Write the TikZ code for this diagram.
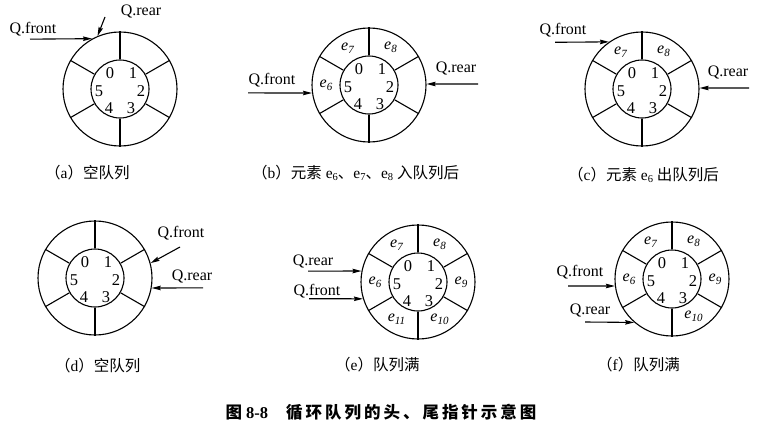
\documentclass[tikz,border=0pt]{standalone}
\usepackage{fontspec}
\setmainfont{Liberation Serif}
\newfontfamily\cjk{Noto Sans CJK SC}
\newfontfamily\cjkcap[LetterSpace=18]{Noto Sans CJK SC}
\usetikzlibrary{arrows.meta}

\tikzset{
 ring/.style={circle, draw, inner sep=0pt, line width=1.1pt},
 spoke/.style={line width=1.1pt},
 dig/.style={inner sep=0pt, font=\fontsize{16.5}{16.5}\selectfont},
 elem/.style={inner sep=0pt, font=\fontsize{16}{16}\selectfont\itshape},
 qlab/.style={inner sep=0pt, font=\fontsize{16}{16}\selectfont},
 ptr/.style={line width=1.1pt, -{Stealth[length=9pt,width=4.5pt,inset=1pt]}},
 subcap/.style={inner sep=0pt, anchor=west, font=\fontsize{15.5}{15.5}\selectfont},
}
\newcommand{\qring}[3]{%
 \node[ring, minimum size=114pt] (#1O) at (#2,#3) {};
 \node[ring, minimum size=58pt] (#1I) at (#2,#3) {};
 \foreach \ang in {30,90,150,210,270,330} \draw[spoke] (#1I.\ang) -- (#1O.\ang);
 \node[dig] (#1n0) at ([shift={(-10,-16)}]#1O) {0};
 \node[dig] (#1n1) at ([shift={(13,-16)}]#1O) {1};
 \node[dig] (#1n2) at ([shift={(21,2)}]#1O) {2};
 \node[dig] (#1n3) at ([shift={(11,19)}]#1O) {3};
 \node[dig] (#1n4) at ([shift={(-11,19)}]#1O) {4};
 \node[dig] (#1n5) at ([shift={(-21,2.5)}]#1O) {5};
}
\newcommand{\elm}[1]{e\raisebox{-3pt}{\fontsize{11}{11}\selectfont #1}}
\newcommand{\sube}[1]{e\raisebox{-2.5pt}{\fontsize{10.5}{10.5}\selectfont #1}}

\begin{document}
\begin{tikzpicture}[x=1pt,y=-1pt]
\useasboundingbox (0,0) rectangle (758,436);

% (a)
\qring{a}{120}{89}
\node[qlab] (afl) at (33,29) {Q.front};
\node[qlab] (arl) at (141,12) {Q.rear};
\coordinate (aft) at (30,39.15);
\coordinate (art) at (105,17);
\draw[ptr] (aft) -- (aO.119);
\draw[ptr] (art) -- (aO.113);
\node[subcap] (acap) at (45,173) {{\cjk （}a{\cjk ）空队列}};

% (b)
\qring{b}{369}{85}
\node[elem] (be6) at ([shift={(-120:43)}]bO) {\elm{7}};
\node[elem] (be7) at ([shift={(-60:43)}]bO) {\elm{8}};
\node[elem] (be5) at ([shift={(-180:43)}]bO) {\elm{6}};
\node[qlab] (bfl) at (272,80) {Q.front};
\node[qlab] (brl) at (456,69) {Q.rear};
\coordinate (bft) at (248,92.93);
\coordinate (brt) at (478,84);
\draw[ptr] (bft) -- (bO.188);
\draw[ptr] (brt) -- (bO.1);
\node[subcap] (bcap) at (252,173) {{\cjk （}b{\cjk ）元素} \sube{6}{\cjk 、}\sube{7}{\cjk 、}\sube{8} {\cjk 入队列后}};

% (c)
\qring{c}{642}{89}
\node[elem] (ce7) at ([shift={(-120:43)}]cO) {\elm{7}};
\node[elem] (ce8) at ([shift={(-60:43)}]cO) {\elm{8}};
\node[qlab] (cfl) at (563,30) {Q.front};
\node[qlab] (crl) at (728,73) {Q.rear};
\coordinate (cft) at (555,42.3);
\coordinate (crt) at (749,88);
\draw[ptr] (cft) -- (cO.125);
\draw[ptr] (crt) -- (cO.1);
\node[subcap] (ccap) at (568,175) {{\cjk （}c{\cjk ）元素} \sube{6} {\cjk 出队列后}};

% (d)
\qring{d}{95}{278}
\node[qlab] (dfl) at (181,233) {Q.front};
\node[qlab] (drl) at (192,276) {Q.rear};
\coordinate (dft) at (180,247);
\coordinate (drt) at (203,287.9);
\draw[ptr] (dft) -- (dO.15);
\draw[ptr] (drt) -- (dO.350);
\node[subcap] (dcap) at (55,366) {{\cjk （}d{\cjk ）空队列}};

% (e)
\qring{e}{418}{282}
\node[elem] (ee7) at ([shift={(-120:43)}]eO) {\elm{7}};
\node[elem] (ee8) at ([shift={(-60:43)}]eO) {\elm{8}};
\node[elem] (ee9) at ([shift={(0:43)}]eO) {\elm{9}};
\node[elem] (ee10) at ([shift={(60:43)}]eO) {\elm{10}};
\node[elem] (ee11) at ([shift={(120:43)}]eO) {\elm{11}};
\node[elem] (ee6) at ([shift={(180:43)}]eO) {\elm{6}};
\node[qlab] (erl) at (313,261) {Q.rear};
\node[qlab] (efl) at (317,291) {Q.front};
\coordinate (ert) at (308,271.1);
\coordinate (eft) at (309,298.7);
\draw[ptr] (ert) -- (eO.169);
\draw[ptr] (eft) -- (eO.197);
\node[subcap] (ecap) at (335,365) {{\cjk （}e{\cjk ）队列满}};

% (f)
\qring{f}{672}{279}
\node[elem] (fe7) at ([shift={(-120:43)}]fO) {\elm{7}};
\node[elem] (fe8) at ([shift={(-60:43)}]fO) {\elm{8}};
\node[elem] (fe9) at ([shift={(0:43)}]fO) {\elm{9}};
\node[elem] (fe10) at ([shift={(60:43)}]fO) {\elm{10}};
\node[elem] (fe6) at ([shift={(180:43)}]fO) {\elm{6}};
\node[qlab] (ffl) at (580,272) {Q.front};
\node[qlab] (frl) at (590,310) {Q.rear};
\coordinate (fft) at (568,285.95);
\coordinate (frt) at (585,322);
\draw[ptr] (fft) -- (fO.187);
\draw[ptr] (frt) -- (fO.229);
\node[subcap] (fcap) at (597,365) {{\cjk （}f{\cjk ）队列满}};

% main caption
\node[inner sep=0pt, font=\fontsize{16.5}{16.5}\selectfont\bfseries] (cap) at (381,412)
 {{\cjk 图} 8-8\hspace{18pt}{\cjkcap 循环队列的头、尾指针示意图}};
\end{tikzpicture}
\end{document}
